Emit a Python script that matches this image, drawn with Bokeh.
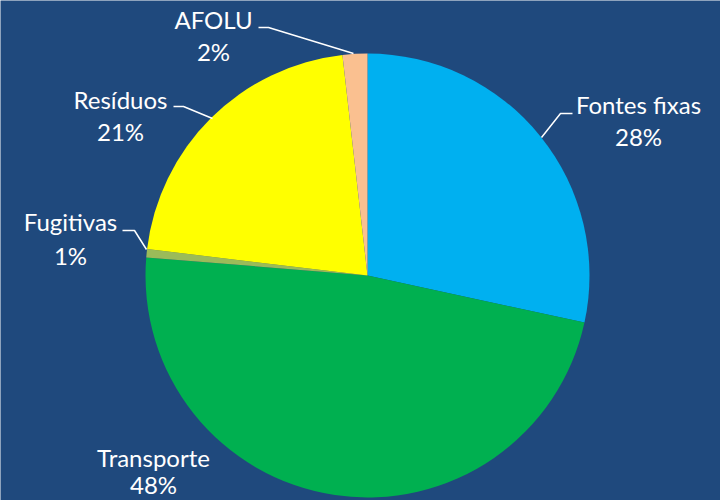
import math
from bokeh.plotting import figure
from bokeh.models import ColumnDataSource, Range1d
from bokeh.core.properties import value
from bokeh.embed import file_html
from bokeh.resources import INLINE

# Data
categories = ["Fontes fixas", "Transporte", "Fugitivas", "Resíduos", "AFOLU"]
shares = [28.4, 47.9, 0.6, 21.3, 1.8]
colors = ["#00B0F0", "#00B050", "#9BBB59", "#FFFF00", "#FAC090"]
pct_labels = ["28%", "48%", "1%", "21%", "2%"]

BG = "#1F497D"
W, H = 720, 500
CX, CY, R = 367, 275, 222  # pixel coords (y from top)

def py(y):
    return H - y

total = sum(shares)
starts, ends = [], []
cum = 0.0
for s in shares:
    a0 = math.pi / 2 - 2 * math.pi * cum / total
    cum += s
    a1 = math.pi / 2 - 2 * math.pi * cum / total
    starts.append(a0)
    ends.append(a1)

src = ColumnDataSource(dict(cat=categories, start=starts, end=ends, color=colors))

p = figure(width=W, height=H, output_backend="svg", toolbar_location=None,
           x_range=Range1d(0, W), y_range=Range1d(0, H), min_border=0)
p.axis.visible = False
p.grid.visible = False
p.outline_line_color = None
p.background_fill_color = BG
p.border_fill_color = BG

p.wedge(x=CX, y=py(CY), radius=R, start_angle="start", end_angle="end",
        direction="clock", fill_color="color", line_color=None, source=src)

# label positions (pixel coords, name line / percent line)
label_pos = {
    "Fontes fixas": (638, 104, 136),
    "Transporte": (153, 457, 484),
    "Fugitivas": (70, 221, 255),
    "Resíduos": (120, 99, 131),
    "AFOLU": (213, 19, 51),
}
tx, ty, tt = [], [], []
for c, pl in zip(categories, pct_labels):
    x, y1, y2 = label_pos[c]
    tx += [x, x]
    ty += [py(y1), py(y2)]
    tt += [c, pl]

p.text(x=tx, y=ty, text=tt, text_color="white", text_font=value("Lato"),
       text_font_size="24px", text_align="center", text_baseline="middle")

# leader lines
leaders = [
    ([572, 560, 541], [113, 113, 137]),
    ([122, 134, 146], [230, 230, 249]),
    ([173, 183, 212], [106, 106, 118]),
    ([258, 268, 353], [27, 27, 53]),
]
p.multi_line(xs=[l[0] for l in leaders], ys=[[py(v) for v in l[1]] for l in leaders],
             line_color="white", line_width=1.5)

open("out.html", "w").write(file_html(p, INLINE))
